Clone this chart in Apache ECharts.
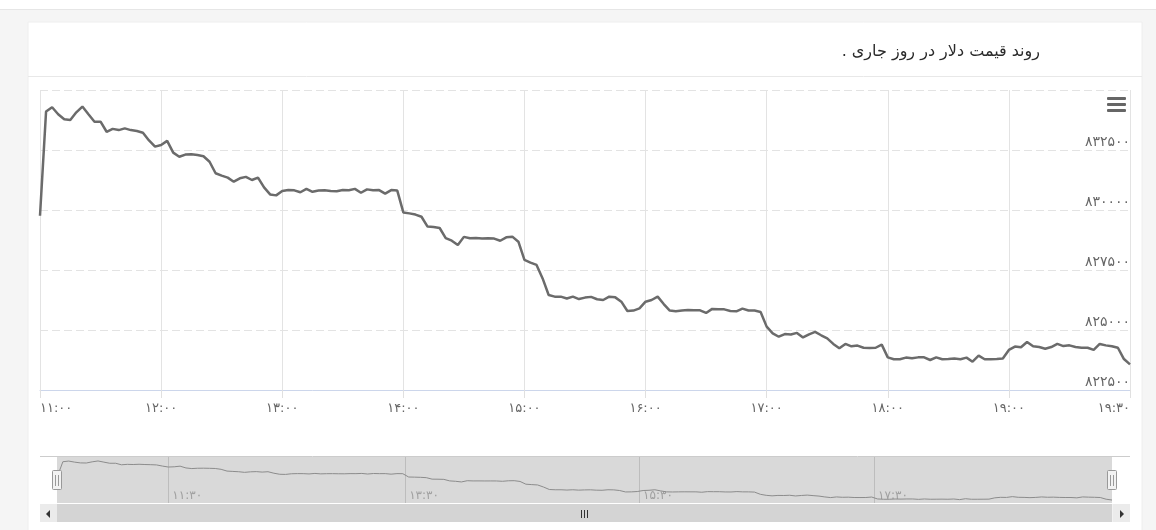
<!DOCTYPE html>
<html>
<head>
<meta charset="utf-8">
<script src="https://cdn.jsdelivr.net/npm/echarts@6/dist/echarts.min.js"></script>
<style>
  html, body { margin: 0; padding: 0; background: #f5f5f5; }
  #chart { width: 1156px; height: 530px; }
</style>
</head>
<body>
<div id="chart"></div>
<script>
// ---- data ----
const chartTitle = 'روند قیمت دلار در روز جاری .\u200F';
const xTickLabels = ['۱۱:۰۰','۱۲:۰۰','۱۳:۰۰','۱۴:۰۰','۱۵:۰۰','۱۶:۰۰','۱۷:۰۰','۱۸:۰۰','۱۹:۰۰','۱۹:۳۰'];
const navTickPos = [19, 59.4, 99.3, 139.4];
const navTickLabels = ['۱۱:۳۰','۱۳:۳۰','۱۵:۳۰','۱۷:۳۰'];
const prices = [
829760, 834100, 834280, 833990, 833780, 833750, 834070, 834310, 833990, 833680,
833680, 833260, 833380, 833330, 833400, 833330, 833290, 833220, 832900, 832640,
832710, 832880, 832390, 832220, 832310, 832320, 832290, 832240, 832010, 831530,
831430, 831350, 831180, 831320, 831380, 831250, 831350, 830940, 830650, 830610,
830790, 830830, 830820, 830740, 830880, 830760, 830810, 830820, 830790, 830780,
830830, 830820, 830880, 830720, 830860, 830820, 830830, 830680, 830830, 830810,
829900, 829860, 829810, 829720, 829310, 829290, 829250, 828830, 828720, 828540,
828880, 828820, 828830, 828810, 828820, 828810, 828720, 828860, 828890, 828680,
827920, 827810, 827710, 827150, 826460, 826390, 826390, 826310, 826390, 826290,
826350, 826380, 826280, 826250, 826390, 826360, 826180, 825790, 825810, 825900,
826180, 826250, 826390, 826080, 825810, 825780, 825810, 825830, 825820, 825820,
825710, 825880, 825860, 825860, 825790, 825780, 825890, 825810, 825810, 825750,
825140, 824860, 824720, 824830, 824810, 824880, 824690, 824820, 824920, 824780,
824650, 824420, 824240, 824420, 824320, 824350, 824260, 824250, 824260, 824390,
823860, 823780, 823780, 823850, 823820, 823860, 823860, 823750, 823860, 823780,
823790, 823810, 823780, 823850, 823680, 823930, 823780, 823780, 823790, 823810,
824170, 824310, 824280, 824500, 824320, 824290, 824220, 824290, 824420, 824330,
824360, 824290, 824260, 824260, 824170, 824420, 824360, 824320, 824260, 823790,
823570
];
const yMin = 822500, yMax = 835000, yStep = 2500;
const xStep = 20;

// ---- helpers ----
const faDigits = '۰۱۲۳۴۵۶۷۸۹';
const toFa = s => String(s).replace(/\d/g, d => faDigits[d]);
const seriesData = prices.map((v, i) => [i, v]);
const xMax = prices.length - 1;

const FONT = 'DejaVu Sans';
const chart = echarts.init(document.getElementById('chart'), null, { renderer: 'canvas' });

chart.setOption({
  animation: false,
  backgroundColor: 'transparent',
  title: {
    text: chartTitle,
    right: 111,
    top: 39,
    textStyle: { fontFamily: FONT, fontSize: 16, fontWeight: 'normal', color: '#2b2b2b' }
  },
  graphic: [
    { type: 'rect', z: -10, silent: true, shape: { x: 0, y: 0, width: 1156, height: 9 }, style: { fill: '#ffffff' } },
    { type: 'line', z: -9, silent: true, shape: { x1: 0, y1: 9.5, x2: 1156, y2: 9.5 }, style: { stroke: '#e6e6e6', lineWidth: 1 } },
    { type: 'rect', z: -10, silent: true, shape: { x: 28, y: 22, width: 1114, height: 520 }, style: { fill: '#ffffff', stroke: '#eeeeee', lineWidth: 1 } },
    { type: 'line', z: -9, silent: true, shape: { x1: 28, y1: 76.5, x2: 1142, y2: 76.5 }, style: { stroke: '#e8e8e8', lineWidth: 1 } },
    // export menu icon
    { type: 'rect', z: 10, shape: { x: 1107, y: 97, width: 19, height: 3, r: 1 }, style: { fill: '#666666' } },
    { type: 'rect', z: 10, shape: { x: 1107, y: 103, width: 19, height: 3, r: 1 }, style: { fill: '#666666' } },
    { type: 'rect', z: 10, shape: { x: 1107, y: 109, width: 19, height: 3, r: 1 }, style: { fill: '#666666' } },
    // navigator outline
    { type: 'line', z: 5, silent: true, shape: { x1: 40, y1: 456.5, x2: 1130, y2: 456.5 }, style: { stroke: '#cccccc', lineWidth: 1 } },
    // navigator handles
    { type: 'rect', z: 20, shape: { x: 52.5, y: 470.5, width: 9, height: 19, r: 1 }, style: { fill: '#f2f2f2', stroke: '#999999', lineWidth: 1 } },
    { type: 'line', z: 21, shape: { x1: 55.5, y1: 475, x2: 55.5, y2: 486 }, style: { stroke: '#999999', lineWidth: 1 } },
    { type: 'line', z: 21, shape: { x1: 58.5, y1: 475, x2: 58.5, y2: 486 }, style: { stroke: '#999999', lineWidth: 1 } },
    { type: 'rect', z: 20, shape: { x: 1107.5, y: 470.5, width: 9, height: 19, r: 1 }, style: { fill: '#f2f2f2', stroke: '#999999', lineWidth: 1 } },
    { type: 'line', z: 21, shape: { x1: 1110.5, y1: 475, x2: 1110.5, y2: 486 }, style: { stroke: '#999999', lineWidth: 1 } },
    { type: 'line', z: 21, shape: { x1: 1113.5, y1: 475, x2: 1113.5, y2: 486 }, style: { stroke: '#999999', lineWidth: 1 } },
    // scrollbar
    { type: 'rect', z: 5, shape: { x: 40, y: 504, width: 1090, height: 18 }, style: { fill: '#f2f2f2' } },
    { type: 'rect', z: 6, shape: { x: 57, y: 504, width: 1055, height: 18 }, style: { fill: '#d4d4d4' } },
    { type: 'rect', z: 6, shape: { x: 40, y: 504, width: 17, height: 18 }, style: { fill: '#ebebeb' } },
    { type: 'rect', z: 6, shape: { x: 1113, y: 504, width: 17, height: 18 }, style: { fill: '#ebebeb' } },
    { type: 'polygon', z: 7, shape: { points: [[50, 510], [50, 518], [46, 514]] }, style: { fill: '#333333' } },
    { type: 'polygon', z: 7, shape: { points: [[1120, 510], [1120, 518], [1124, 514]] }, style: { fill: '#333333' } },
    { type: 'line', z: 7, shape: { x1: 581.5, y1: 510, x2: 581.5, y2: 518 }, style: { stroke: '#333333', lineWidth: 1 } },
    { type: 'line', z: 7, shape: { x1: 584.5, y1: 510, x2: 584.5, y2: 518 }, style: { stroke: '#333333', lineWidth: 1 } },
    { type: 'line', z: 7, shape: { x1: 587.5, y1: 510, x2: 587.5, y2: 518 }, style: { stroke: '#333333', lineWidth: 1 } }
  ],
  grid: [
    { left: 40, right: 26, top: 90, height: 300, containLabel: false },
    { left: 57, right: 44, top: 457, height: 46, show: true, backgroundColor: '#d9d9d9', borderWidth: 0 }
  ],
  xAxis: [
    {
      type: 'value', gridIndex: 0, min: 0, max: xMax, interval: xStep,
      axisLine: { show: true, lineStyle: { color: '#ccd6eb', width: 1 } },
      axisTick: { show: true, length: 8, lineStyle: { color: '#e0e0e0' } },
      splitLine: { show: true, lineStyle: { color: '#e3e3e3', width: 1 } },
      axisLabel: {
        margin: 12, color: '#666666', fontFamily: FONT, fontSize: 13,
        alignMinLabel: 'left', alignMaxLabel: 'right',
        formatter: v => xTickLabels[Math.round(v / xStep)] || ''
      }
    },
    {
      type: 'value', gridIndex: 1, min: 0, max: xMax,
      axisLine: { show: false },
      splitLine: { show: false },
      axisTick: { show: true, inside: true, length: 46, customValues: navTickPos, lineStyle: { color: '#bdbdbd', width: 1 } },
      axisLabel: {
        show: true, inside: true, margin: 1, customValues: navTickPos,
        align: 'left', verticalAlign: 'bottom', padding: [0, 0, 0, 4],
        color: '#a0a0a0', fontFamily: FONT, fontSize: 12,
        formatter: v => { const k = navTickPos.indexOf(v); return k >= 0 ? navTickLabels[k] : ''; }
      }
    }
  ],
  yAxis: [
    {
      type: 'value', gridIndex: 0, position: 'right', min: yMin, max: yMax, interval: yStep,
      axisLine: { show: false }, axisTick: { show: false },
      splitLine: { show: true, lineStyle: { color: '#e3e3e3', width: 1, type: [8, 4] } },
      axisLabel: {
        inside: true, margin: 0, verticalAlign: 'bottom', padding: [0, 0, 1, 0],
        showMaxLabel: false, color: '#666666', fontFamily: FONT, fontSize: 14,
        formatter: v => toFa(v)
      }
    },
    {
      type: 'value', gridIndex: 1, min: 822750, max: 835400, show: false,
      splitLine: { show: false }
    }
  ],
  series: [
    {
      type: 'line', xAxisIndex: 0, yAxisIndex: 0, data: seriesData,
      showSymbol: false, silent: true,
      lineStyle: { color: '#6b6b6b', width: 2.5 }, z: 3
    },
    {
      type: 'line', xAxisIndex: 1, yAxisIndex: 1, data: seriesData,
      showSymbol: false, silent: true,
      lineStyle: { color: '#8c8c8c', width: 1 }, z: 3
    }
  ]
});
</script>
</body>
</html>
